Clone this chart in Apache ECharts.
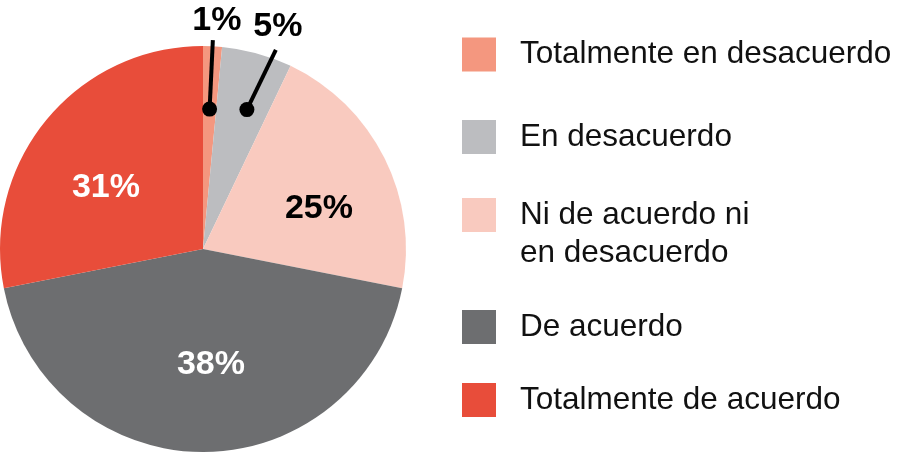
<!DOCTYPE html>
<html><head><meta charset="utf-8">
<script src="https://cdn.jsdelivr.net/npm/echarts@6/dist/echarts.min.js"></script>
<style>html,body{margin:0;padding:0;background:#fff}#c{width:906px;height:453px}</style>
</head><body><div id="c"></div>
<script>
// ---- data ----
const categories = ['Totalmente en desacuerdo', 'En desacuerdo', 'Ni de acuerdo ni en desacuerdo', 'De acuerdo', 'Totalmente de acuerdo'];
const sliceShares = [1.5, 5.6, 21, 43.8, 28.1];   // slice sizes as drawn in the picture
const percentLabels = [1, 5, 25, 38, 31];         // printed percentages
const colors = ['#F4977F', '#BCBDC0', '#F9CABF', '#6D6E70', '#E84D3A'];

// ---- layout / style ----
const FONT = "'Liberation Sans', Arial, sans-serif";
const CX = 203, CY = 249, R = 203;
const total = sliceShares.reduce((a, b) => a + b, 0);
const cum = []; let acc = 0; sliceShares.forEach(v => { cum.push(acc); acc += v; });
const midAngle = i => (cum[i] + sliceShares[i] / 2) / total * 360;
const polar = (deg, rad) => [CX + rad * Math.sin(deg * Math.PI / 180), CY - rad * Math.cos(deg * Math.PI / 180)];

const inner = { 2: { r: 0.604, a: 7.6, color: '#000' }, 3: { r: 0.573, a: -3.9, color: '#fff' }, 4: { r: 0.565, a: -7.2, color: '#fff' } };
const leader = { 0: { dotA: 0, dotR: 0.69, topA: 0, topR: 1.03, lab: [4, -20] }, 1: { dotA: 2, dotR: 0.72, topA: 4.6, topR: 1.045, lab: [2, -23] } };
const legendTops = [35.5, 118, 158, 308, 381];

const leaderGraphics = [];
Object.keys(leader).forEach(k => {
  const i = +k, L = leader[i];
  const dot = polar(midAngle(i) + L.dotA, L.dotR * R);
  const top = polar(midAngle(i) + L.topA, L.topR * R);
  leaderGraphics.push({ type: 'polyline', shape: { points: [dot, top] }, style: { stroke: '#000', lineWidth: 4, fill: null }, z: 100 });
  leaderGraphics.push({ type: 'circle', shape: { cx: dot[0], cy: dot[1], r: 7.5 }, style: { fill: '#000' }, z: 101 });
});

const chart = echarts.init(document.getElementById('c'), null, { renderer: 'canvas' });
chart.setOption({
  animation: false,
  backgroundColor: '#fff',
  legend: categories.map((n, i) => ({
    data: [n], orient: 'vertical', left: 462, top: legendTops[i], padding: 0,
    itemWidth: 34, itemHeight: 34, icon: 'rect', selectedMode: false,
    formatter: i === 2 ? '\nNi de acuerdo ni\nen desacuerdo' : '{name}',
    textStyle: { fontFamily: FONT, fontSize: 31.5, color: '#111', lineHeight: 38, padding: [0, 0, 0, 19] }
  })),
  graphic: leaderGraphics,
  series: [{
    type: 'pie', center: [CX, CY], radius: [0, R], startAngle: 90, clockwise: true,
    avoidLabelOverlap: false, silent: true,
    label: { show: true, position: 'outside', formatter: p => percentLabels[p.dataIndex] + '%', fontFamily: FONT, fontWeight: 'bold', fontSize: 34, color: '#000' },
    labelLine: { show: false },
    data: categories.map((n, i) => ({
      name: n, value: sliceShares[i], itemStyle: { color: colors[i] },
      label: inner[i] ? { position: 'inside', color: inner[i].color } : {}
    })),
    labelLayout: function (p) {
      const i = p.dataIndex;
      if (inner[i]) {
        const pt = polar(midAngle(i) + inner[i].a, inner[i].r * R);
        return { x: pt[0], y: pt[1], align: 'center', verticalAlign: 'middle' };
      }
      const L = leader[i];
      const top = polar(midAngle(i) + L.topA, L.topR * R);
      return { x: top[0] + L.lab[0], y: top[1] + L.lab[1], align: 'center', verticalAlign: 'middle' };
    }
  }]
});
</script>
</body></html>
